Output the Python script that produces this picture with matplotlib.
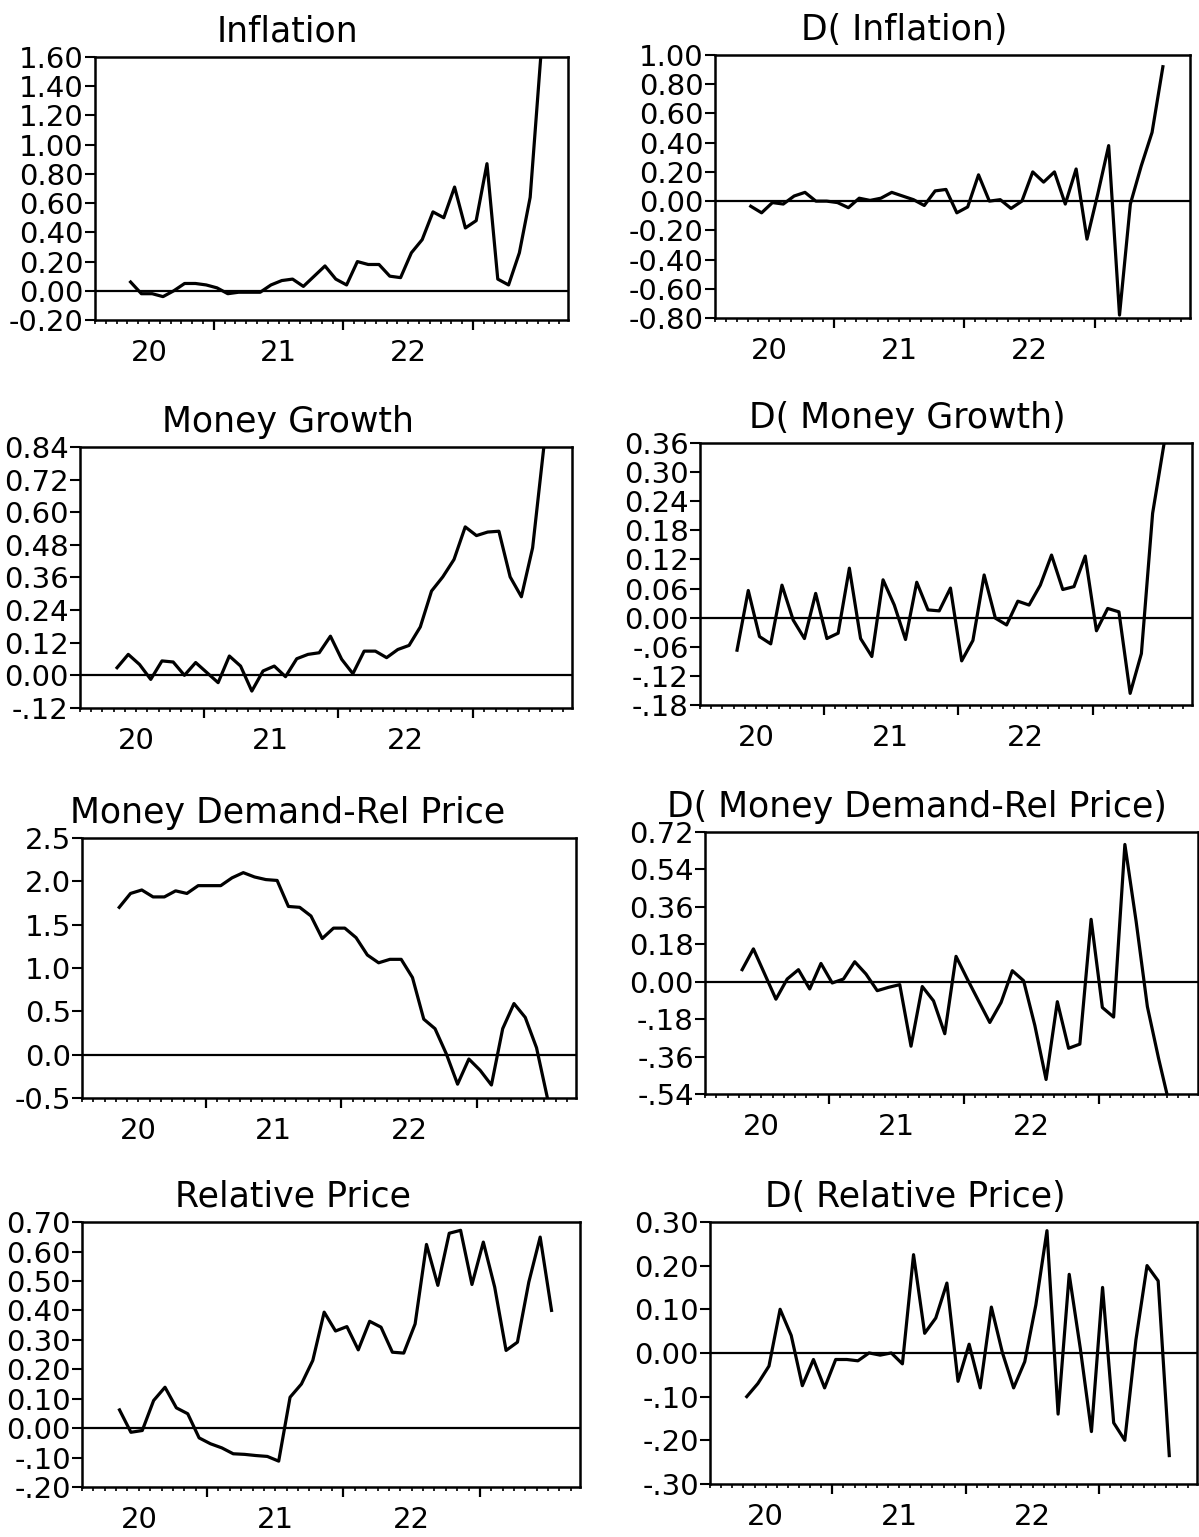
import numpy as np
import matplotlib
matplotlib.use('Agg')
import matplotlib.pyplot as plt

plt.rcParams['font.family'] = ['DejaVu Sans']

# monthly data, May 1920 .. July 1923 (month 0 = Jan 1920)
first_month = 4
years = [1920, 1921, 1922]
year_labels = ['20', '21', '22']

inflation = [0.06, -0.02, -0.02, -0.04, 0.00, 0.05, 0.05, 0.04, 0.02, -0.02,
             -0.01, -0.01, -0.01, 0.04, 0.07, 0.08, 0.03, 0.10, 0.17, 0.08,
             0.04, 0.20, 0.18, 0.18, 0.10, 0.09, 0.26, 0.35, 0.54, 0.50,
             0.71, 0.43, 0.48, 0.87, 0.08, 0.04, 0.26, 0.64, 1.62]
d_inflation = [-0.035, -0.08, -0.01, -0.02, 0.035, 0.06, 0.0, 0.0, -0.01, -0.045,
               0.02, 0.005, 0.02, 0.06, 0.035, 0.01, -0.03, 0.07, 0.08, -0.08,
               -0.04, 0.18, 0.0, 0.01, -0.05, 0.0, 0.20, 0.13, 0.20, -0.02,
               0.22, -0.26, 0.05, 0.38, -0.78, -0.02, 0.24, 0.47, 0.92]
money_growth = [0.028, 0.077, 0.04, -0.015, 0.053, 0.049, 0.0, 0.047, 0.01, -0.027,
                0.071, 0.034, -0.058, 0.016, 0.034, -0.005, 0.061, 0.077, 0.083, 0.144,
                0.059, 0.006, 0.089, 0.089, 0.065, 0.095, 0.11, 0.178, 0.31, 0.362,
                0.426, 0.546, 0.514, 0.527, 0.53, 0.362, 0.289, 0.469, 0.84]
d_money_growth = [-0.067, 0.056, -0.039, -0.054, 0.067, -0.005, -0.043, 0.05, -0.043, -0.032,
                  0.102, -0.043, -0.08, 0.078, 0.026, -0.045, 0.073, 0.016, 0.014, 0.061,
                  -0.089, -0.047, 0.088, -0.001, -0.015, 0.034, 0.026, 0.067, 0.129, 0.058,
                  0.064, 0.127, -0.027, 0.019, 0.012, -0.156, -0.074, 0.215, 0.356]
money_demand = [1.70, 1.86, 1.90, 1.82, 1.82, 1.89, 1.86, 1.95, 1.95, 1.95,
                2.04, 2.10, 2.05, 2.02, 2.01, 1.71, 1.70, 1.60, 1.34, 1.46,
                1.46, 1.35, 1.15, 1.06, 1.10, 1.10, 0.89, 0.41, 0.30, 0.01,
                -0.34, -0.05, -0.18, -0.35, 0.30, 0.59, 0.43, 0.08, -0.52]
d_money_demand = [0.058, 0.158, 0.037, -0.084, 0.013, 0.058, -0.035, 0.088, -0.006, 0.013,
                  0.096, 0.037, -0.043, -0.027, -0.014, -0.31, -0.023, -0.092, -0.25, 0.122,
                  0.013, -0.092, -0.196, -0.10, 0.053, 0.005, -0.21, -0.47, -0.096, -0.32,
                  -0.30, 0.30, -0.124, -0.17, 0.66, 0.29, -0.12, -0.37, -0.60]
relative_price = [0.062, -0.014, -0.008, 0.094, 0.139, 0.069, 0.049, -0.033, -0.053, -0.067,
                  -0.087, -0.089, -0.093, -0.096, -0.112, 0.105, 0.15, 0.23, 0.394, 0.33,
                  0.345, 0.266, 0.363, 0.343, 0.258, 0.255, 0.354, 0.624, 0.485, 0.662,
                  0.672, 0.488, 0.632, 0.479, 0.264, 0.292, 0.496, 0.649, 0.40]
d_relative_price = [-0.10, -0.07, -0.03, 0.10, 0.04, -0.075, -0.015, -0.08, -0.015, -0.015,
                    -0.018, 0.0, -0.005, 0.0, -0.025, 0.225, 0.045, 0.08, 0.16, -0.065,
                    0.02, -0.08, 0.105, 0.0, -0.08, -0.02, 0.11, 0.28, -0.14, 0.18,
                    0.01, -0.18, 0.15, -0.16, -0.20, 0.03, 0.20, 0.165, -0.235]

# y axis: ticks and printed labels
inf_ticks = [-0.2, 0.0, 0.2, 0.4, 0.6, 0.8, 1.0, 1.2, 1.4, 1.6]
inf_labels = ['-0.20', '0.00', '0.20', '0.40', '0.60', '0.80', '1.00', '1.20', '1.40', '1.60']
dinf_ticks = [-0.8, -0.6, -0.4, -0.2, 0.0, 0.2, 0.4, 0.6, 0.8, 1.0]
dinf_labels = ['-0.80', '-0.60', '-0.40', '-0.20', '0.00', '0.20', '0.40', '0.60', '0.80', '1.00']
mg_ticks = [-0.12, 0.0, 0.12, 0.24, 0.36, 0.48, 0.60, 0.72, 0.84]
mg_labels = ['-.12', '0.00', '0.12', '0.24', '0.36', '0.48', '0.60', '0.72', '0.84']
dmg_ticks = [-0.18, -0.12, -0.06, 0.0, 0.06, 0.12, 0.18, 0.24, 0.30, 0.36]
dmg_labels = ['-.18', '-.12', '-.06', '0.00', '0.06', '0.12', '0.18', '0.24', '0.30', '0.36']
md_ticks = [-0.5, 0.0, 0.5, 1.0, 1.5, 2.0, 2.5]
md_labels = ['-0.5', '0.0', '0.5', '1.0', '1.5', '2.0', '2.5']
dmd_ticks = [-0.54, -0.36, -0.18, 0.0, 0.18, 0.36, 0.54, 0.72]
dmd_labels = ['-.54', '-.36', '-.18', '0.00', '0.18', '0.36', '0.54', '0.72']
rp_ticks = [-0.2, -0.1, 0.0, 0.1, 0.2, 0.3, 0.4, 0.5, 0.6, 0.7]
rp_labels = ['-.20', '-.10', '0.00', '0.10', '0.20', '0.30', '0.40', '0.50', '0.60', '0.70']
drp_ticks = [-0.3, -0.2, -0.1, 0.0, 0.1, 0.2, 0.3]
drp_labels = ['-.30', '-.20', '-.10', '0.00', '0.10', '0.20', '0.30']

# title, data, ticks, labels, axes rect, title centre (figure fraction)
panels = [
    ('Inflation', inflation, inf_ticks, inf_labels, [0.0792, 0.7918, 0.3945, 0.1711], 0.240),
    ('D( Inflation)', d_inflation, dinf_ticks, dinf_labels, [0.5963, 0.7931, 0.3962, 0.1711], 0.754),
    ('Money Growth', money_growth, mg_ticks, mg_labels, [0.0667, 0.5394, 0.4103, 0.1698], 0.240),
    ('D( Money Growth)', d_money_growth, dmg_ticks, dmg_labels, [0.5838, 0.5413, 0.4103, 0.1705], 0.757),
    ('Money Demand-Rel Price', money_demand, md_ticks, md_labels, [0.0684, 0.2856, 0.4120, 0.1692], 0.240),
    ('D( Money Demand-Rel Price)', d_money_demand, dmd_ticks, dmd_labels, [0.5880, 0.2882, 0.4112, 0.1705], 0.765),
    ('Relative Price', relative_price, rp_ticks, rp_labels, [0.0684, 0.0325, 0.4153, 0.1724], 0.244),
    ('D( Relative Price)', d_relative_price, drp_ticks, drp_labels, [0.5922, 0.0345, 0.4062, 0.1705], 0.763),
]

x_lo = 1920 + 1.3 / 12
x_hi = 1920 + 44.8 / 12
month_ticks = 1920 + np.arange(1, 45) / 12

fig = plt.figure(figsize=(11.99, 15.37), dpi=100)

for title, vals, yt, yl, rect, tx in panels:
    ax = fig.add_axes(rect)
    months = first_month + np.arange(len(vals))
    x = 1920 + (months + 0.3) / 12
    ax.plot(x, vals, color='k', lw=2.3)
    ax.axhline(0, color='k', lw=1.6)  # zero line

    ax.set_xlim(x_lo, x_hi)
    ax.set_ylim(yt[0], yt[-1])
    ax.set_yticks(yt, yl)
    ax.set_xticks([y + 1 for y in years])
    ax.set_xticks(month_ticks, minor=True)
    ax.tick_params(axis='x', which='major', length=7, width=1.6, labelbottom=False)
    ax.tick_params(axis='x', which='minor', length=3, width=1.2)
    ax.tick_params(axis='y', length=7, width=1.5, labelsize=21, pad=1)
    for s in ax.spines.values():
        s.set_linewidth(1.8)

    for yr, lab in zip(years, year_labels):
        ax.annotate(lab, xy=(yr + 0.5, 0), xycoords=('data', 'axes fraction'),
                    xytext=(0, -14), textcoords='offset points',
                    ha='center', va='top', fontsize=21)

    # title sits a bit left of the axes centre, as in the original
    ax.annotate(title, xy=(tx, 0), xycoords=(fig.transFigure, ax.spines['top']),
                xytext=(0, 11), textcoords='offset points',
                ha='center', va='baseline', fontsize=25)

fig.savefig('out.png', dpi=100)
